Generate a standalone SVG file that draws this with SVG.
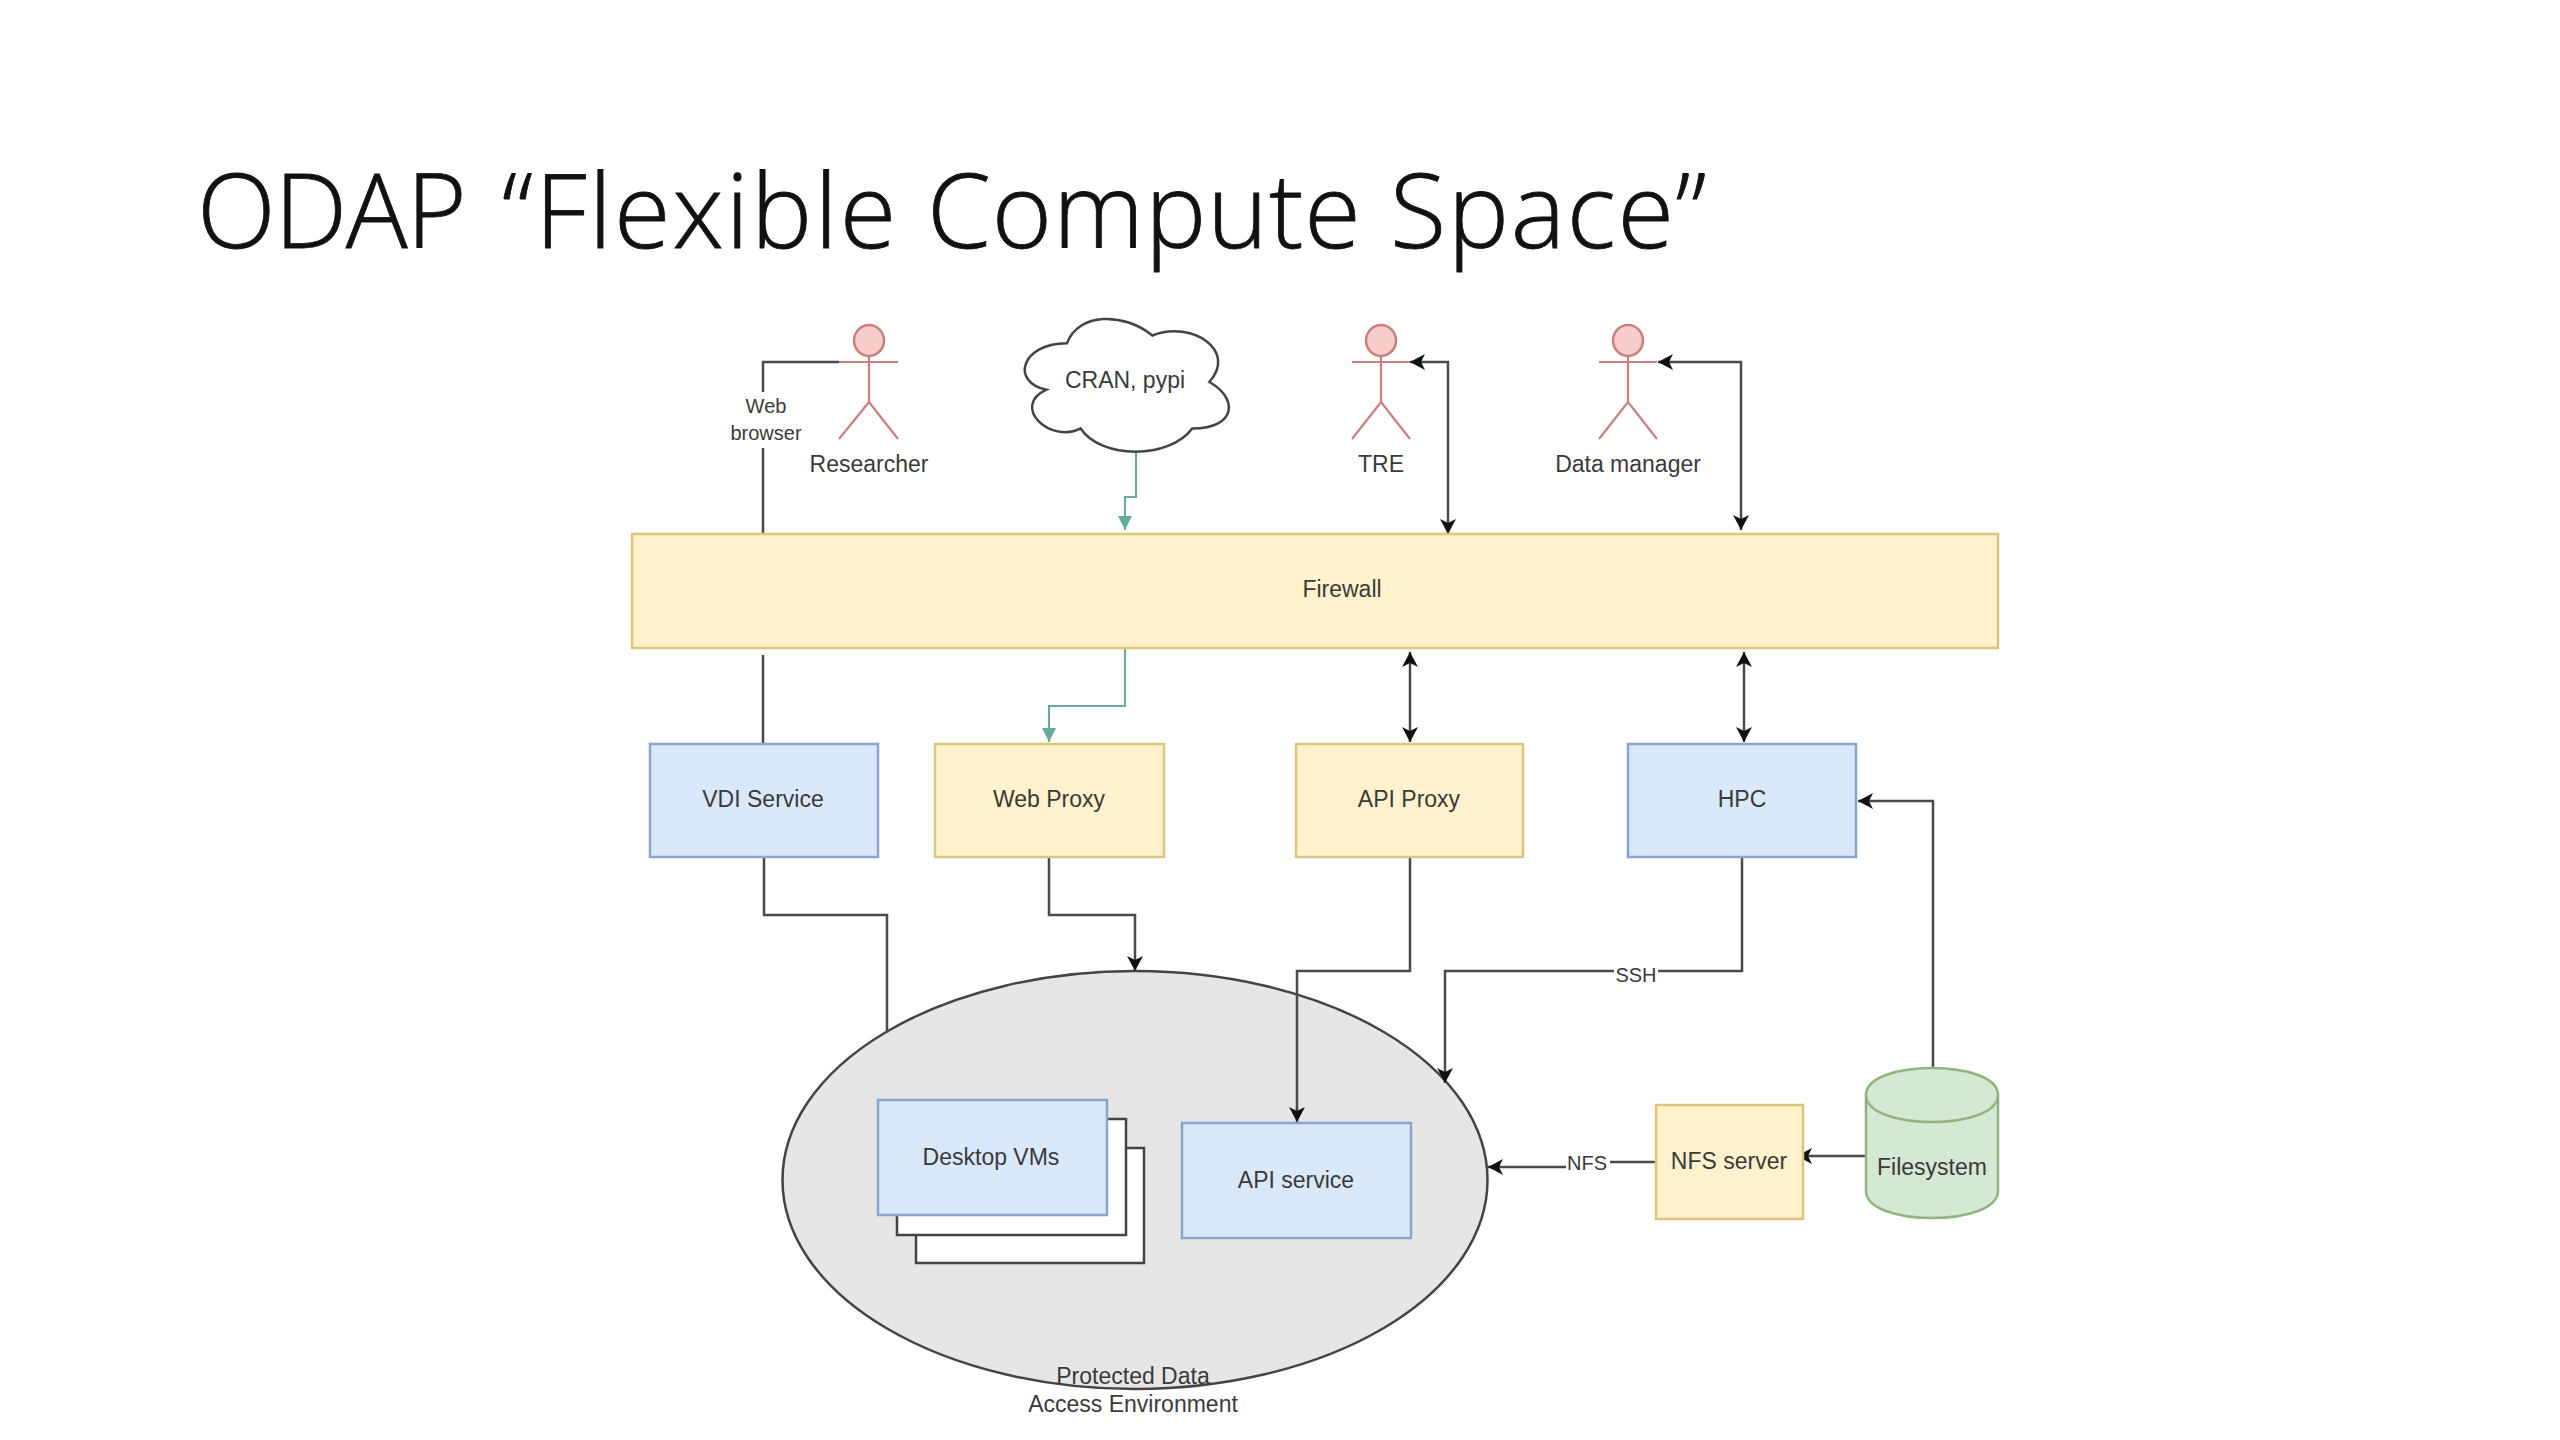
<svg xmlns="http://www.w3.org/2000/svg" width="2560" height="1440" viewBox="0 0 2560 1440">
<style>
.t{font-family:"Liberation Sans",Arial,sans-serif;font-size:23px;fill:#3a3a3a;text-anchor:middle}
.s{font-size:20px}
.b{fill:#dae8fc;stroke:#8aa6cf;stroke-width:2.5}
.y{fill:#fff2cc;stroke:#dcc67e;stroke-width:2.5}
.a{fill:none;stroke:#c9807d;stroke-width:2.2}
.h{fill:#f8cecc;stroke:#c9807d;stroke-width:2.5}
.c{fill:none;stroke:#4a4a4a;stroke-width:2.5}
.g{fill:none;stroke:#67ab9f;stroke-width:2}
</style>
<defs>
<marker id="k" markerUnits="userSpaceOnUse" markerWidth="18" markerHeight="18" refX="15" refY="8" orient="auto-start-reverse"><path d="M0 0L15 8L0 16L4 8Z" fill="#111"/></marker>
<marker id="m" markerUnits="userSpaceOnUse" markerWidth="18" markerHeight="18" refX="14" refY="7" orient="auto"><path d="M0 0L14 7L0 14Z" fill="#67ab9f"/></marker>
</defs>
<rect width="2560" height="1440" fill="#fff"/>
<text y="248" font-family="'Open Sans',sans-serif" font-weight="300" font-size="103" fill="#111" stroke="#111" stroke-width="0.8"><tspan x="197" letter-spacing="-1.300">ODAP</tspan> <tspan x="502" letter-spacing="2">“Flexible</tspan> <tspan x="927" letter-spacing="0.900">Compute</tspan> <tspan x="1390" letter-spacing="1.600">Space”</tspan></text>
<g id="environment"><ellipse cx="1135" cy="1180" rx="352.500" ry="209" fill="#e6e6e6" stroke="#444" stroke-width="2.500"/><text class="t" x="1133" y="1384">Protected Data</text><text class="t" x="1133" y="1412">Access Environment</text></g>
<g id="connectors">
<path class="c" d="M839 362H763V534"/>
<path class="c" d="M763 655V744"/>
<path class="c" d="M764 857V915H887V1033"/>
<path class="g" d="M1136 452V497H1125V530" marker-end="url(#m)"/>
<path class="g" d="M1125 648V706H1049V742" marker-end="url(#m)"/>
<path class="c" d="M1410 362H1448V534" marker-start="url(#k)" marker-end="url(#k)"/>
<path class="c" d="M1658 362H1741V530" marker-start="url(#k)" marker-end="url(#k)"/>
<path class="c" d="M1410 652V742" marker-start="url(#k)" marker-end="url(#k)"/>
<path class="c" d="M1744 652V742" marker-start="url(#k)" marker-end="url(#k)"/>
<path class="c" d="M1049 857V915H1135V971" marker-end="url(#k)"/>
<path class="c" d="M1410 857V971H1297V1122" marker-end="url(#k)"/>
<path class="c" d="M1742 857V971H1445V1083" marker-end="url(#k)"/>
<path class="c" d="M1933 1068V801H1858" marker-end="url(#k)"/>
<path class="c" d="M1866 1156H1797" marker-end="url(#k)"/>
<path class="c" d="M1656 1162H1570V1167H1488" marker-end="url(#k)"/>
<rect x="722" y="392" width="90" height="56" fill="#fff"/>
<text class="t s" x="766" y="413">Web</text><text class="t s" x="766" y="440">browser</text>
<rect x="1614" y="966" width="44" height="16" fill="#fff"/><text class="t s" x="1636" y="982">SSH</text>
<rect x="1566" y="1152" width="44" height="22" fill="#fff"/><text class="t s" x="1587" y="1170">NFS</text>
</g>
<g id="researcher"><ellipse class="h" cx="869" cy="340.500" rx="15" ry="15.500"/><path class="a" d="M869 356V402M839 362H898M839 439L869 402L898 439"/><text class="t" x="869" y="472">Researcher</text></g>
<g id="cran"><path d="M30 20C6 20 0 40 19.200 44C0 52.800 21.600 72 37.200 64C48 80 84 80 96 64C120 64 120 48 105 40C120 24 96 8 75 16C60 4 36 4 30 20Z" transform="translate(1010 304.500) scale(1.898 1.937)" fill="#fff" stroke="#444" stroke-width="2.500" vector-effect="non-scaling-stroke"/><text class="t" x="1125" y="388">CRAN, pypi</text></g>
<g id="tre"><ellipse class="h" cx="1381" cy="340.500" rx="15" ry="15.500"/><path class="a" d="M1381 356V402M1352 362H1410M1352 439L1381 402L1410 439"/><text class="t" x="1381" y="472">TRE</text></g>
<g id="data-manager"><ellipse class="h" cx="1628" cy="340.500" rx="15" ry="15.500"/><path class="a" d="M1628 356V402M1599 362H1657M1599 439L1628 402L1657 439"/><text class="t" x="1628" y="472">Data manager</text></g>
<g id="firewall"><rect class="y" x="632" y="534" width="1366" height="114"/><text class="t" x="1342" y="597">Firewall</text></g>
<g id="vdi"><rect class="b" x="650" y="744" width="228" height="113"/><text class="t" x="763" y="807">VDI Service</text></g>
<g id="web-proxy"><rect class="y" x="935" y="744" width="229" height="113"/><text class="t" x="1049" y="807">Web Proxy</text></g>
<g id="api-proxy"><rect class="y" x="1296" y="744" width="227" height="113"/><text class="t" x="1409" y="807">API Proxy</text></g>
<g id="hpc"><rect class="b" x="1628" y="744" width="228" height="113"/><text class="t" x="1742" y="807">HPC</text></g>
<g id="desktop-vms"><rect x="916" y="1148" width="228" height="115" fill="#fff" stroke="#444" stroke-width="2.500"/><rect x="897" y="1119" width="229" height="116" fill="#fff" stroke="#444" stroke-width="2.500"/><rect class="b" x="878" y="1100" width="229" height="115"/><text class="t" x="991" y="1165">Desktop VMs</text></g>
<g id="api-service"><rect class="b" x="1182" y="1123" width="229" height="115"/><text class="t" x="1296" y="1188">API service</text></g>
<g id="nfs-server"><rect class="y" x="1656" y="1105" width="147" height="114"/><text class="t" x="1729" y="1169">NFS server</text></g>
<g id="filesystem"><path d="M1866 1095C1866 1059 1998 1059 1998 1095V1191C1998 1227 1866 1227 1866 1191Z" fill="#d5e8d4" stroke="#8fb67f" stroke-width="2.500"/><path d="M1866 1095C1866 1131 1998 1131 1998 1095" fill="none" stroke="#8fb67f" stroke-width="2.500"/><text class="t" x="1932" y="1175">Filesystem</text></g>
</svg>
